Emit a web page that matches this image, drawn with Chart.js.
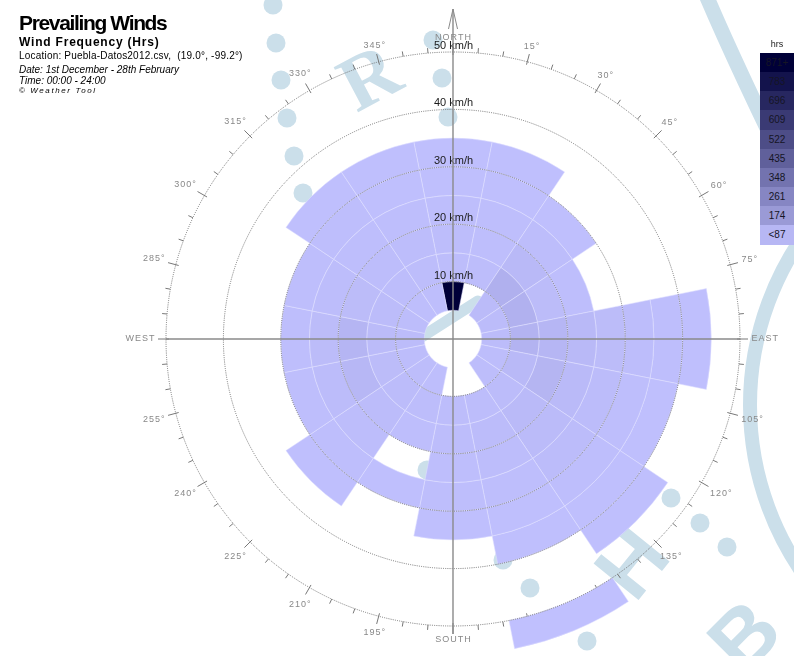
<!DOCTYPE html>
<html>
<head>
<meta charset="utf-8">
<script src="https://cdn.jsdelivr.net/npm/chart.js@4.4.1/dist/chart.umd.min.js"></script>
<style>
  html, body { margin: 0; padding: 0; background: #fff; }
  #wrap { position: relative; width: 794px; height: 656px; overflow: hidden; font-family: "Liberation Sans", Arial, sans-serif; }
  #rose { position: absolute; left: 0; top: 0; }
  .t { position: absolute; left: 19px; white-space: nowrap; color: #000; }
  .sw { position: absolute; left: 760px; width: 34px; text-align: center; font-size: 10px; color: #151525; }
</style>
</head>
<body>
<div id="wrap">
  <canvas id="rose" width="794" height="656"></canvas>
  <div class="t" style="top:12px;font-weight:bold;font-size:21px;line-height:21px;letter-spacing:-1.35px;">Prevailing Winds</div>
  <div class="t" style="top:35.5px;font-weight:bold;font-size:12px;line-height:12px;letter-spacing:0.8px;">Wind Frequency (Hrs)</div>
  <div class="t" style="top:51px;font-size:10px;line-height:10px;letter-spacing:0.2px;">Location: Puebla-Datos2012.csv,&nbsp; (19.0°, -99.2°)</div>
  <div class="t" style="top:64.5px;font-size:10px;line-height:10px;font-style:italic;">Date: 1st December - 28th February</div>
  <div class="t" style="top:75.5px;font-size:10px;line-height:10px;font-style:italic;">Time: 00:00 - 24:00</div>
  <div class="t" style="top:86.7px;font-size:8px;line-height:8px;font-style:italic;letter-spacing:1.6px;">© Weather Tool</div>
  <div id="legend"></div>
</div>
<script>
// Wind directions, clockwise from north (16 sectors of 22.5°)
const directions = ['N', 'NNE', 'NE', 'ENE', 'E', 'ESE', 'SE', 'SSE', 'S', 'SSW', 'SW', 'WSW', 'W', 'WNW', 'NW', 'NNW'];

// Speed band edges in km/h
const speedEdges = [5, 10, 15, 20, 25, 30, 35, 40, 45, 50, 55];

// Hours recorded in each speed band, per direction (0 = none recorded)
const hrs5to10  = [905, 0, 22, 18, 16, 12, 12, 0, 0, 10, 12, 14, 16, 12, 10, 10];
const hrs10to15 = [14, 12, 72, 66, 58, 30, 18, 14, 14, 12, 16, 20, 24, 18, 14, 12];
const hrs15to20 = [12, 10, 30, 20, 44, 52, 26, 16, 14, 10, 18, 40, 48, 20, 14, 12];
const hrs20to25 = [9, 8, 12, 8, 30, 28, 22, 14, 10, 0, 14, 18, 20, 14, 10, 9];
const hrs25to30 = [6, 6, 6, 0, 20, 18, 16, 10, 8, 6, 10, 8, 9, 8, 7, 6];
const hrs30to35 = [4, 4, 0, 0, 12, 10, 10, 6, 4, 0, 4, 0, 0, 0, 4, 4];
const hrs35to40 = [0, 0, 0, 0, 7, 5, 6, 3, 0, 0, 0, 0, 0, 0, 0, 0];
const hrs40to45 = [0, 0, 0, 0, 3, 0, 3, 0, 0, 0, 0, 0, 0, 0, 0, 0];
const hrs45to50 = [0, 0, 0, 0, 0, 0, 0, 0, 0, 0, 0, 0, 0, 0, 0, 0];
const hrs50to55 = [0, 0, 0, 0, 0, 0, 0, 2, 0, 0, 0, 0, 0, 0, 0, 0];

const hoursBySpeed = [hrs5to10, hrs10to15, hrs15to20, hrs20to25, hrs25to30,
                      hrs30to35, hrs35to40, hrs40to45, hrs45to50, hrs50to55];

// Radial axis rings (km/h)
const speedTicks = [10, 20, 30, 40, 50];

// Colour key (hours)
const legendLabels = ['871+', '783', '696', '609', '522', '435', '348', '261', '174', '<87'];
const legendValues = [871, 783, 696, 609, 522, 435, 348, 261, 174, 43];

// Compass names at the cardinal points
const compassNames = { 0: 'NORTH', 90: 'EAST', 180: 'SOUTH', 270: 'WEST' };

const maxHours = 871;
const lightRGB = [192, 192, 254];
const darkRGB = [0, 0, 56];
function colorFor(h) {
  const t = Math.max(0, Math.min(1, h / maxHours));
  const c = lightRGB.map((v, i) => Math.round(v + (darkRGB[i] - v) * t));
  return 'rgb(' + c.join(',') + ')';
}

// Colour key boxes
const legendEl = document.getElementById('legend');
const hrsLabel = document.createElement('div');
hrsLabel.className = 'sw';
hrsLabel.style.cssText = 'top:38px;height:12px;line-height:12px;font-size:9px;color:#222;background:none;';
hrsLabel.textContent = 'hrs';
legendEl.appendChild(hrsLabel);
legendLabels.forEach((lab, i) => {
  const d = document.createElement('div');
  d.className = 'sw';
  const top = Math.round(53 + i * 19.15);
  const bottom = Math.round(53 + (i + 1) * 19.15);
  d.style.top = top + 'px';
  d.style.height = (bottom - top) + 'px';
  d.style.lineHeight = (bottom - top) + 'px';
  d.style.background = colorFor(legendValues[i]);
  d.textContent = lab;
  legendEl.appendChild(d);
});

// One polar-area dataset per speed band; each cell spans its band radially
const datasets = hoursBySpeed.map((band, k) => ({
  label: speedEdges[k] + '-' + speedEdges[k + 1] + ' km/h',
  data: band.map(h => (h > 0 ? speedEdges[k + 1] : null)),
  speedFrom: speedEdges[k],
  hours: band,
  backgroundColor: band.map(colorFor),
  borderColor: 'rgba(224,224,255,0.9)',
  borderWidth: 0.6,
  clip: false
}));

// Give each cell its inner radius (start of its speed band); hide empty cells
const bandBase = {
  id: 'bandBase',
  beforeDatasetsDraw(chart) {
    const scale = chart.scales.r;
    chart.data.datasets.forEach((ds, di) => {
      chart.getDatasetMeta(di).data.forEach((arc, i) => {
        if (ds.data[i] == null) { arc.outerRadius = -1; arc.innerRadius = 0; return; }
        arc.innerRadius = scale.getDistanceFromCenterForValue(ds.speedFrom);
      });
    });
  }
};

// Faint background seal printed behind the chart
const seal = {
  id: 'seal',
  beforeDraw(chart) {
    const ctx = chart.ctx;
    const tint = 'rgb(203,223,234)';
    ctx.save();
    ctx.fillStyle = tint;
    ctx.strokeStyle = tint;
    const dots = [[273, 5], [276, 43], [281, 80], [287, 118], [294, 156], [303, 193],
                  [433, 40], [442, 78], [448, 117],
                  [671, 498], [700, 523], [727, 547], [530, 588], [587, 641], [427, 470], [503, 560]];
    dots.forEach(([x, y]) => { ctx.beginPath(); ctx.arc(x, y, 9.5, 0, Math.PI * 2); ctx.fill(); });
    const glyph = (ch, x, y, size, rot, font) => {
      ctx.save();
      ctx.translate(x, y);
      ctx.rotate(rot * Math.PI / 180);
      ctx.font = 'bold ' + size + 'px ' + font;
      ctx.textAlign = 'center';
      ctx.textBaseline = 'middle';
      ctx.fillText(ch, 0, 0);
      ctx.restore();
    };
    glyph('R', 372, 82, 78, -28, '"Liberation Serif", serif');
    glyph('H', 636, 566, 84, -51, '"Liberation Sans", sans-serif');
    glyph('B', 748, 640, 84, -45, '"Liberation Sans", sans-serif');
    ctx.lineWidth = 11;
    ctx.lineCap = 'round';
    ctx.beginPath(); ctx.moveTo(420, 338); ctx.lineTo(478, 301); ctx.stroke();
    ctx.lineWidth = 14;
    ctx.beginPath(); ctx.arc(1045, 405, 295, Math.PI * 0.78, Math.PI * 1.22); ctx.stroke();
    ctx.lineWidth = 15;
    ctx.lineCap = 'butt';
    ctx.beginPath(); ctx.moveTo(706, -5); ctx.quadraticCurveTo(738, 70, 798, 192); ctx.stroke();
    ctx.restore();
  }
};

// Compass ring: degree ticks and labels around the outer ring
const compass = {
  id: 'compass',
  beforeDatasetsDraw(chart) {
    const scale = chart.scales.r;
    const ctx = chart.ctx;
    const cx = scale.xCenter, cy = scale.yCenter;
    const R = scale.getDistanceFromCenterForValue(speedTicks[speedTicks.length - 1]);
    ctx.save();
    ctx.strokeStyle = '#777';
    ctx.lineWidth = 1;
    for (let a = 0; a < 360; a += 5) {
      const major = a % 15 === 0;
      const th = a * Math.PI / 180;
      const sx = Math.sin(th), sy = -Math.cos(th);
      const r1 = major ? R - 3 : R;
      const r2 = major ? R + 8 : R + 5;
      ctx.beginPath();
      ctx.moveTo(cx + sx * r1, cy + sy * r1);
      ctx.lineTo(cx + sx * r2, cy + sy * r2);
      ctx.stroke();
    }
    ctx.fillStyle = '#888';
    ctx.font = '9px "Liberation Sans", Arial, sans-serif';
    ctx.letterSpacing = '1px';
    ctx.textAlign = 'center';
    ctx.textBaseline = 'middle';
    for (let a = 0; a < 360; a += 15) {
      const txt = compassNames[a] || (a + '°');
      const th = a * Math.PI / 180;
      const sx = Math.sin(th), sy = -Math.cos(th);
      const w = ctx.measureText(txt).width;
      const r = R + 11 + (w / 2) * Math.abs(sx) + 3 * Math.abs(sy);
      ctx.fillText(txt, cx + sx * r + 0.5, cy + sy * r);
    }
    ctx.restore();
  }
};

// Speed labels on the north axis, crosshair and north arrow
const overlay = {
  id: 'overlay',
  afterDraw(chart) {
    const scale = chart.scales.r;
    const ctx = chart.ctx;
    const cx = scale.xCenter, cy = scale.yCenter;
    const R = scale.getDistanceFromCenterForValue(speedTicks[speedTicks.length - 1]);
    ctx.save();
    ctx.fillStyle = '#1a1a1a';
    ctx.font = '11px "Liberation Sans", Arial, sans-serif';
    ctx.textAlign = 'center';
    ctx.textBaseline = 'middle';
    speedTicks.forEach(v => {
      const r = scale.getDistanceFromCenterForValue(v);
      ctx.fillText(v + ' km/h', cx + 0.5, cy - r - 6);
    });
    ctx.strokeStyle = '#8a8a8a';
    ctx.lineWidth = 1.4;
    ctx.beginPath();
    ctx.moveTo(cx - R, cy); ctx.lineTo(cx + R, cy);
    ctx.moveTo(cx, cy - R - 43); ctx.lineTo(cx, cy + R + 8);
    ctx.stroke();
    ctx.lineWidth = 1;
    ctx.beginPath();
    ctx.moveTo(cx - 4.5, cy - R - 23); ctx.lineTo(cx, cy - R - 43); ctx.lineTo(cx + 4.5, cy - R - 23);
    ctx.stroke();
    ctx.restore();
  }
};

new Chart(document.getElementById('rose'), {
  type: 'polarArea',
  data: { labels: directions, datasets: datasets },
  options: {
    responsive: false,
    animation: false,
    devicePixelRatio: 1,
    events: [],
    layout: { padding: { left: 166, right: 54, top: 52, bottom: 30 } },
    plugins: { legend: { display: false }, tooltip: { enabled: false } },
    scales: {
      r: {
        min: 0,
        max: 50,
        startAngle: -11.25,
        ticks: { display: false, stepSize: 10 },
        grid: { circular: true, color: '#737373', lineWidth: 1, z: 1 },
        border: { dash: [1, 1.2] },
        angleLines: { display: false },
        pointLabels: { display: false }
      }
    }
  },
  plugins: [seal, compass, bandBase, overlay]
});
</script>
</body>
</html>
